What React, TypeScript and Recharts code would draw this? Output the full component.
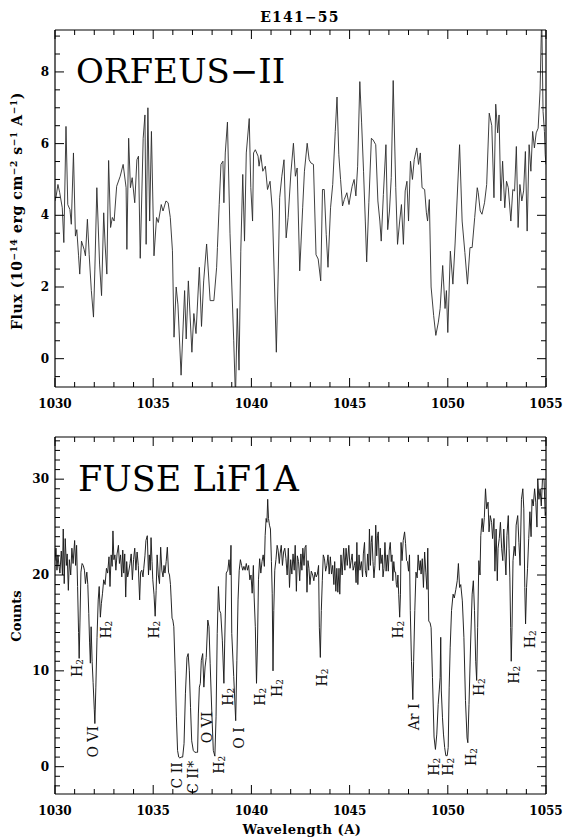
import React from 'react'
import { LineChart, ComposedChart, Line, XAxis, YAxis } from 'recharts'

// ORFEUS-II spectrum (wavelength in A, flux in 1e-14 erg/cm2/s/A)
const orfeusWave = [
  1030.00, 1030.06, 1030.15, 1030.24, 1030.37, 1030.45, 1030.56, 1030.65, 1030.76, 1030.83,
  1030.94, 1031.04, 1031.11, 1031.20, 1031.26, 1031.35, 1031.48, 1031.55, 1031.65, 1031.74,
  1031.85, 1031.96, 1032.03, 1032.13, 1032.27, 1032.37, 1032.48, 1032.55, 1032.64, 1032.73,
  1032.83, 1032.92, 1033.01, 1033.14, 1033.32, 1033.47, 1033.62, 1033.66, 1033.75, 1033.84,
  1033.93, 1034.06, 1034.17, 1034.25, 1034.34, 1034.49, 1034.58, 1034.64, 1034.73, 1034.82,
  1034.91, 1035.04, 1035.17, 1035.26, 1035.41, 1035.50, 1035.65, 1035.76, 1035.87, 1035.98,
  1036.06, 1036.17, 1036.26, 1036.42, 1036.60, 1036.68, 1036.79, 1036.97, 1037.07, 1037.18,
  1037.35, 1037.46, 1037.57, 1037.72, 1037.90, 1038.09, 1038.23, 1038.27, 1038.36, 1038.45,
  1038.55, 1038.60, 1038.67, 1038.78, 1038.91, 1039.10, 1039.19, 1039.28, 1039.37, 1039.46,
  1039.56, 1039.65, 1039.74, 1039.89, 1039.97, 1040.06, 1040.11, 1040.20, 1040.34, 1040.39,
  1040.48, 1040.58, 1040.71, 1040.82, 1040.95, 1041.07, 1041.18, 1041.27, 1041.37, 1041.44,
  1041.55, 1041.66, 1041.77, 1041.87, 1042.01, 1042.14, 1042.24, 1042.33, 1042.46, 1042.61,
  1042.70, 1042.84, 1042.94, 1043.03, 1043.16, 1043.29, 1043.40, 1043.53, 1043.62, 1043.71,
  1043.81, 1043.90, 1044.03, 1044.14, 1044.27, 1044.36, 1044.45, 1044.54, 1044.64, 1044.73,
  1044.86, 1044.97, 1045.04, 1045.13, 1045.23, 1045.32, 1045.41, 1045.52, 1045.61, 1045.71,
  1045.80, 1045.87, 1045.98, 1046.11, 1046.20, 1046.33, 1046.44, 1046.54, 1046.61, 1046.72,
  1046.85, 1046.94, 1047.03, 1047.12, 1047.22, 1047.35, 1047.44, 1047.55, 1047.64, 1047.74,
  1047.83, 1047.92, 1048.00, 1048.10, 1048.20, 1048.29, 1048.42, 1048.51, 1048.60, 1048.69,
  1048.82, 1048.91, 1048.97, 1049.06, 1049.15, 1049.28, 1049.39, 1049.52, 1049.61, 1049.74,
  1049.86, 1049.93, 1050.00, 1050.13, 1050.26, 1050.37, 1050.60, 1050.73, 1050.87, 1051.00,
  1051.13, 1051.24, 1051.37, 1051.50, 1051.55, 1051.65, 1051.74, 1051.87, 1051.98, 1052.11,
  1052.24, 1052.35, 1052.44, 1052.54, 1052.61, 1052.70, 1052.79, 1052.90, 1052.99, 1053.08,
  1053.21, 1053.31, 1053.40, 1053.49, 1053.58, 1053.67, 1053.77, 1053.86, 1053.95, 1054.04,
  1054.14, 1054.23, 1054.32, 1054.41, 1054.50, 1054.60, 1054.70, 1054.78, 1054.85, 1054.92,
  1054.96, 1055.00,
]
const orfeusFlux = [
  4.4, 4.54, 4.86, 4.63, 4.21, 3.24, 6.48, 4.3, 4.16, 3.75,
  5.74, 3.42, 3.6, 2.87, 2.36, 3.28, 3.05, 2.87, 3.89, 2.9,
  1.9, 1.16, 2.5, 4.77, 2.64, 1.76, 4.07, 3.2, 2.36, 5.53,
  3.66, 3.94, 3.84, 4.81, 5.09, 5.42, 4.77, 3.05, 6.15, 4.77,
  5.05, 4.35, 5.55, 5.65, 2.8, 6.15, 6.8, 3.19, 7.0, 3.84,
  6.34, 2.87, 3.94, 3.8, 4.3, 4.12, 4.4, 4.35, 3.94, 3.01,
  0.6, 2.0, 1.5, -0.46, 1.9, 0.55, 2.17, 0.18, 1.26, 0.7,
  2.55, 0.9, 2.17, 3.2, 1.62, 1.62, 2.55, 3.1, 4.3, 5.42,
  5.51, 4.35, 5.74, 6.6, 3.5, 0.5, -1.1, 1.4, -0.32, 3.0,
  5.14, 3.28, 5.74, 6.7, 4.77, 3.84, 5.74, 5.83, 5.65, 5.37,
  5.69, 5.23, 5.37, 4.72, 4.95, 4.12, 2.0, 0.18, 2.5, 4.49,
  5.09, 5.55, 3.37, 3.94, 5.18, 6.01, 5.09, 5.32, 2.45, 4.21,
  5.23, 6.01, 5.55, 5.46, 5.42, 2.9, 2.78, 2.17, 4.72, 4.72,
  3.47, 2.55, 4.21, 4.86, 6.34, 7.3, 5.69, 5.0, 4.26, 4.44,
  4.63, 4.3, 4.54, 4.81, 5.0, 4.54, 5.37, 7.73, 6.6, 5.23,
  3.84, 2.7, 4.35, 6.15, 6.1, 5.97, 4.4, 3.84, 3.28, 4.58,
  5.97, 3.6, 4.12, 5.05, 7.76, 4.77, 3.19, 3.84, 4.3, 3.19,
  4.68, 4.95, 3.84, 5.51, 5.0, 5.55, 5.88, 5.42, 5.74, 4.77,
  4.72, 4.07, 3.84, 4.44, 2.0, 1.2, 0.65, 1.02, 1.4, 2.6,
  1.4, 1.9, 0.73, 3.0, 2.08, 3.2, 5.97, 3.84, 2.96, 2.08,
  3.1, 3.1, 3.94, 4.77, 4.63, 4.12, 4.03, 4.35, 4.86, 6.85,
  6.5, 4.49, 7.1, 6.3, 6.8, 4.4, 5.51, 4.21, 4.95, 4.77,
  3.84, 4.72, 4.68, 5.92, 3.66, 4.86, 4.4, 4.68, 5.78, 3.56,
  5.97, 5.23, 6.34, 5.88, 6.3, 6.43, 7.5, 9.6, 6.9, 6.34,
  5.69, 5.42,
]

// FUSE LiF1A spectrum (counts)
const fuseWave = [
  1030.00, 1030.05, 1030.10, 1030.15, 1030.20, 1030.25, 1030.32, 1030.38, 1030.42, 1030.47,
  1030.52, 1030.58, 1030.62, 1030.68, 1030.73, 1030.80, 1030.86, 1030.92, 1031.00, 1031.05,
  1031.10, 1031.15, 1031.20, 1031.23, 1031.27, 1031.32, 1031.38, 1031.44, 1031.50, 1031.55,
  1031.62, 1031.67, 1031.72, 1031.76, 1031.80, 1031.84, 1031.89, 1031.94, 1032.00, 1032.03,
  1032.08, 1032.14, 1032.20, 1032.25, 1032.31, 1032.36, 1032.42, 1032.48, 1032.55, 1032.62,
  1032.68, 1032.75, 1032.80, 1032.86, 1032.91, 1032.95, 1033.00, 1033.05, 1033.10, 1033.16,
  1033.23, 1033.28, 1033.34, 1033.40, 1033.45, 1033.50, 1033.55, 1033.60, 1033.65, 1033.70,
  1033.75, 1033.82, 1033.88, 1033.94, 1034.00, 1034.06, 1034.12, 1034.18, 1034.24, 1034.31,
  1034.36, 1034.42, 1034.48, 1034.52, 1034.58, 1034.63, 1034.70, 1034.76, 1034.80, 1034.85,
  1034.89, 1034.94, 1034.98, 1035.04, 1035.10, 1035.15, 1035.20, 1035.26, 1035.32, 1035.38,
  1035.44, 1035.50, 1035.55, 1035.60, 1035.66, 1035.72, 1035.78, 1035.83, 1035.88, 1035.91,
  1035.96, 1036.00, 1036.05, 1036.12, 1036.18, 1036.24, 1036.30, 1036.36, 1036.42, 1036.50,
  1036.57, 1036.64, 1036.72, 1036.78, 1036.84, 1036.90, 1036.96, 1037.04, 1037.12, 1037.20,
  1037.26, 1037.30, 1037.35, 1037.40, 1037.45, 1037.52, 1037.58, 1037.64, 1037.70, 1037.78,
  1037.84, 1037.90, 1037.98, 1038.06, 1038.14, 1038.20, 1038.26, 1038.32, 1038.38, 1038.44,
  1038.52, 1038.60, 1038.64, 1038.72, 1038.80, 1038.86, 1038.92, 1038.96, 1039.00, 1039.10,
  1039.20, 1039.26, 1039.32, 1039.38, 1039.44, 1039.50, 1039.56, 1039.62, 1039.68, 1039.74,
  1039.80, 1039.86, 1039.92, 1039.98, 1040.04, 1040.10, 1040.14, 1040.20, 1040.26, 1040.31,
  1040.36, 1040.42, 1040.48, 1040.54, 1040.60, 1040.66, 1040.70, 1040.75, 1040.79, 1040.83,
  1040.87, 1040.92, 1040.97, 1041.02, 1041.06, 1041.10, 1041.14, 1041.19, 1041.25, 1041.31,
  1041.36, 1041.42, 1041.46, 1041.52, 1041.58, 1041.64, 1041.70, 1041.76, 1041.82, 1041.88,
  1041.94, 1042.00, 1042.06, 1042.12, 1042.18, 1042.23, 1042.29, 1042.34, 1042.40, 1042.46,
  1042.52, 1042.57, 1042.62, 1042.68, 1042.73, 1042.78, 1042.83, 1042.88, 1042.93, 1042.98,
  1043.05, 1043.12, 1043.18, 1043.24, 1043.30, 1043.36, 1043.42, 1043.46, 1043.51, 1043.56,
  1043.61, 1043.66, 1043.72, 1043.78, 1043.84, 1043.90, 1043.96, 1044.02, 1044.08, 1044.14,
  1044.20, 1044.24, 1044.30, 1044.35, 1044.40, 1044.46, 1044.50, 1044.56, 1044.62, 1044.70,
  1044.76, 1044.82, 1044.88, 1044.96, 1045.02, 1045.08, 1045.13, 1045.18, 1045.24, 1045.28,
  1045.33, 1045.37, 1045.42, 1045.48, 1045.53, 1045.60, 1045.66, 1045.70, 1045.76, 1045.80,
  1045.86, 1045.92, 1045.97, 1046.01, 1046.06, 1046.10, 1046.14, 1046.19, 1046.24, 1046.29,
  1046.33, 1046.38, 1046.42, 1046.46, 1046.52, 1046.56, 1046.60, 1046.66, 1046.70, 1046.75,
  1046.80, 1046.86, 1046.92, 1046.97, 1047.02, 1047.07, 1047.12, 1047.16, 1047.20, 1047.25,
  1047.30, 1047.34, 1047.38, 1047.42, 1047.46, 1047.50, 1047.55, 1047.59, 1047.62, 1047.67,
  1047.73, 1047.80, 1047.85, 1047.90, 1047.95, 1048.00, 1048.05, 1048.09, 1048.15, 1048.22,
  1048.26, 1048.32, 1048.38, 1048.44, 1048.49, 1048.55, 1048.60, 1048.64, 1048.70, 1048.76,
  1048.82, 1048.88, 1048.94, 1048.98, 1049.03, 1049.10, 1049.15, 1049.22, 1049.30, 1049.37,
  1049.44, 1049.51, 1049.57, 1049.61, 1049.64, 1049.67, 1049.73, 1049.78, 1049.84, 1049.90,
  1049.97, 1050.02, 1050.07, 1050.12, 1050.19, 1050.27, 1050.33, 1050.41, 1050.48, 1050.54,
  1050.60, 1050.66, 1050.74, 1050.82, 1050.90, 1050.98, 1051.02, 1051.08, 1051.16, 1051.24,
  1051.30, 1051.36, 1051.42, 1051.47, 1051.52, 1051.58, 1051.64, 1051.68, 1051.75, 1051.80,
  1051.86, 1051.92, 1051.98, 1052.05, 1052.10, 1052.16, 1052.23, 1052.28, 1052.35, 1052.40,
  1052.46, 1052.52, 1052.56, 1052.62, 1052.68, 1052.74, 1052.80, 1052.85, 1052.90, 1052.96,
  1053.01, 1053.08, 1053.12, 1053.16, 1053.20, 1053.23, 1053.27, 1053.32, 1053.38, 1053.44,
  1053.48, 1053.56, 1053.62, 1053.68, 1053.75, 1053.82, 1053.87, 1053.92, 1053.96, 1054.01,
  1054.06, 1054.12, 1054.18, 1054.24, 1054.29, 1054.35, 1054.42, 1054.48, 1054.54, 1054.58,
  1054.64, 1054.70, 1054.76, 1054.82, 1054.90, 1054.96, 1055.00,
]
const fuseCounts = [
  21.5, 22.8, 20.5, 22.1, 21.0, 20.2, 22.5, 20.0, 24.8, 19.1,
  23.8, 21.0, 22.2, 18.4, 21.6, 20.0, 22.8, 21.2, 23.6, 21.0,
  23.1, 18.8, 14.0, 11.3, 15.0, 20.3, 21.2, 21.0, 20.5, 19.1,
  20.3, 19.0, 16.0, 13.0, 10.8, 14.6, 11.0, 8.8, 6.0, 4.5,
  8.3, 13.5, 17.4, 18.8, 15.6, 17.0, 18.1, 19.5, 19.0, 20.7,
  20.2, 21.9, 18.8, 22.1, 20.9, 24.6, 21.6, 22.1, 20.5, 22.2,
  23.1, 21.2, 22.1, 19.8, 22.6, 20.2, 22.2, 17.7, 21.4, 19.8,
  20.3, 21.2, 22.2, 19.5, 21.6, 22.8, 20.5, 22.4, 21.0, 17.4,
  20.3, 20.5, 19.8, 20.7, 22.0, 23.6, 24.1, 20.0, 22.1, 20.5,
  23.9, 21.4, 19.5, 18.0, 15.7, 18.4, 22.1, 20.0, 19.1, 22.9,
  20.5, 19.8, 21.0, 20.2, 21.4, 22.9, 20.3, 20.0, 19.0, 17.7,
  15.5, 15.3, 14.6, 10.0, 5.2, 1.7, 1.0, 0.9, 1.0, 1.0,
  2.4, 7.6, 11.4, 11.8, 10.0, 6.2, 2.7, 1.7, 1.5, 1.5,
  1.5, 5.5, 8.3, 8.7, 11.1, 11.8, 8.3, 10.4, 11.4, 15.3,
  14.6, 10.8, 5.9, 1.7, 1.1, 5.2, 13.9, 18.8, 16.3, 16.0,
  13.2, 8.7, 12.9, 20.2, 20.5, 21.6, 20.0, 23.1, 13.9, 9.4,
  4.8, 11.1, 17.4, 20.5, 21.6, 21.0, 20.5, 20.9, 20.5, 21.2,
  20.5, 21.0, 19.5, 20.0, 18.1, 21.0, 17.7, 14.6, 8.7, 12.9,
  19.5, 21.7, 20.2, 21.4, 22.1, 20.9, 24.1, 25.9, 25.5, 27.9,
  25.9, 25.2, 24.8, 21.4, 18.1, 10.0, 16.3, 20.5, 21.6, 23.1,
  22.6, 21.2, 22.2, 23.1, 21.0, 22.4, 22.8, 21.7, 20.0, 22.8,
  18.7, 21.6, 20.1, 22.2, 20.5, 23.1, 18.3, 22.0, 21.4, 19.4,
  22.2, 20.5, 22.8, 21.0, 22.9, 23.1, 18.2, 21.5, 20.7, 19.0,
  20.4, 20.0, 19.4, 20.3, 19.8, 20.1, 21.0, 14.5, 11.4, 16.3,
  19.4, 22.1, 21.7, 20.4, 21.0, 22.1, 20.1, 21.9, 20.1, 21.0,
  19.0, 21.4, 18.3, 20.7, 18.2, 20.7, 18.0, 22.1, 20.0, 22.8,
  20.5, 22.8, 21.0, 23.1, 20.7, 21.5, 22.2, 20.5, 21.0, 21.4,
  19.2, 23.4, 19.0, 22.1, 20.5, 21.4, 19.8, 22.2, 23.4, 20.5,
  19.8, 22.2, 20.5, 24.8, 21.0, 23.4, 24.1, 21.4, 19.7, 21.0,
  25.2, 22.0, 24.1, 24.5, 20.5, 22.8, 21.2, 22.1, 19.8, 20.7,
  23.4, 20.4, 22.1, 20.4, 22.6, 23.4, 21.4, 22.1, 19.4, 21.4,
  20.3, 20.3, 19.0, 18.7, 20.0, 18.0, 15.6, 18.0, 23.4, 21.5,
  23.6, 24.5, 23.3, 21.5, 21.4, 20.4, 22.1, 16.3, 11.0, 7.0,
  11.0, 16.3, 20.3, 19.7, 22.1, 20.5, 21.5, 20.1, 21.7, 18.7,
  22.4, 20.3, 18.5, 22.8, 15.2, 15.0, 14.5, 9.3, 3.1, 1.8,
  3.4, 6.5, 8.1, 9.3, 13.5, 7.9, 5.1, 3.4, 2.0, 1.15,
  1.15, 2.0, 8.3, 12.4, 16.3, 18.0, 17.6, 18.5, 19.4, 21.2,
  18.7, 19.0, 17.3, 13.5, 6.9, 3.0, 2.5, 6.5, 12.8, 18.0,
  19.4, 16.3, 11.0, 9.0, 14.5, 21.5, 20.0, 24.1, 25.9, 24.5,
  26.0, 29.0, 26.9, 27.6, 24.5, 26.2, 25.5, 23.8, 25.9, 20.4,
  24.8, 19.4, 22.8, 23.8, 25.5, 22.8, 21.5, 24.8, 22.4, 20.0,
  24.1, 26.2, 22.8, 19.7, 14.5, 11.0, 14.5, 21.5, 23.0, 22.0,
  25.2, 26.2, 23.4, 21.0, 27.9, 29.0, 26.9, 18.7, 14.9, 18.7,
  20.7, 23.8, 26.6, 24.0, 27.9, 27.2, 29.0, 27.6, 25.0, 30.0,
  27.9, 29.0, 27.2, 30.0, 30.0, 26.2, 26.6,
]

// line identifications in the FUSE panel (label centre in data units)
const annWave = [1031.12, 1031.95, 1032.6, 1035.04, 1036.21, 1037.03, 1037.74, 1038.35, 1038.81, 1039.37, 1040.44, 1041.3, 1043.59, 1047.46, 1048.28, 1049.3, 1050.01, 1051.18, 1051.59, 1053.37, 1054.19]
const annCount = [10.3, 2.6, 14.3, 14.3, -0.9, -1.1, 4.1, 0.2, 7.3, 3.0, 7.3, 8.2, 9.3, 14.3, 5.2, 0, 0, 1.0, 8.3, 9.6, 13.3]
const annText = ['H2', 'O VI', 'H2', 'H2', 'C II', 'C II*', 'O VI', 'H2', 'H2', 'O I', 'H2', 'H2', 'H2', 'H2', 'Ar I', 'H2', 'H2', 'H2', 'H2', 'H2', 'H2']

const xLabels = [1030, 1035, 1040, 1045, 1050, 1055]
const fluxLabels = [0, 2, 4, 6, 8]
const countLabels = [0, 10, 20, 30]

const steps = (from: number, to: number, step: number) => {
  const out: number[] = []
  for (let v = from; v <= to + 1e-9; v += step) out.push(Math.round(v * 100) / 100)
  return out
}
const xTicks = steps(1030, 1055, 1)
const fluxTicks = steps(-0.5, 9, 0.5)
const countTicks = steps(-2, 34, 1)

const orfeusData = orfeusWave.map((w, i) => ({ w, v: orfeusFlux[i] }))
const fuseData = fuseWave.map((w, i) => ({ w, v: fuseCounts[i] }))
const annData = annWave.map((w, i) => ({ w, v: annCount[i], text: annText[i] }))

const SERIF = '"DejaVu Serif", serif'
const MAJOR = 9
const MINOR = 5
const isMajor = (labels: number[], v: number) => labels.some(l => Math.abs(l - v) < 1e-6)

const makeXTick = (side: 'top' | 'bottom', labels: number[], showLabels: boolean) => (p: any) => {
  const v = p.payload.value
  const major = isMajor(labels, v)
  const len = major ? MAJOR : MINOR
  const dir = side === 'bottom' ? -1 : 1
  return (
    <g>
      <line x1={p.x} x2={p.x} y1={p.y} y2={p.y + dir * len} stroke="#000" strokeWidth={1} />
      {showLabels && major && (
        <text x={p.x} y={p.y + 17} textAnchor="middle" dominantBaseline="central"
          fontFamily={SERIF} fontWeight={700} fontSize={12} fill="#000">{v}</text>
      )}
    </g>
  )
}

const makeYTick = (side: 'left' | 'right', labels: number[], showLabels: boolean) => (p: any) => {
  const v = p.payload.value
  const major = isMajor(labels, v)
  const len = major ? MAJOR : MINOR
  const dir = side === 'left' ? 1 : -1
  return (
    <g>
      <line x1={p.x} x2={p.x + dir * len} y1={p.y} y2={p.y} stroke="#000" strokeWidth={1} />
      {showLabels && major && (
        <text x={p.x - 6} y={p.y} textAnchor="end" dominantBaseline="central"
          fontFamily={SERIF} fontWeight={700} fontSize={12} fill="#000">{v}</text>
      )}
    </g>
  )
}

const AnnotationDot = (p: any) => {
  const { cx, cy, payload } = p
  if (cx == null || cy == null) return <g key={p.key} />
  const t: string = payload.text
  return (
    <text key={p.key} x={cx} y={cy} transform={`rotate(-90 ${cx} ${cy})`} textAnchor="middle"
      dominantBaseline="central" fontFamily={SERIF} fontSize={14} fill="#111">
      {t === 'H2' ? (<>H<tspan fontSize={9} dy={3}>2</tspan></>) : t}
    </text>
  )
}

const axisLine = { stroke: '#000', strokeWidth: 1.2 }

const Panel = ({ data, yDomain, yTicks, yLabels, top, height, margin, children, Chart }: any) => (
  <div style={{ position: 'absolute', left: 0, top, width: 568, height }}>
    <Chart width={568} height={height} data={data} margin={margin}>
      <XAxis xAxisId="b" dataKey="w" type="number" domain={[1030, 1055]} allowDataOverflow
        ticks={xTicks} interval={0} tickSize={0} tickMargin={0} tickLine={false}
        axisLine={axisLine} height={margin.xh} tick={makeXTick('bottom', xLabels, true)} />
      <XAxis xAxisId="t" orientation="top" dataKey="w" type="number" domain={[1030, 1055]} allowDataOverflow
        ticks={xTicks} interval={0} tickSize={0} tickMargin={0} tickLine={false}
        axisLine={axisLine} height={1} tick={makeXTick('top', xLabels, false)} />
      <YAxis yAxisId="l" type="number" domain={yDomain} allowDataOverflow ticks={yTicks} interval={0}
        tickSize={0} tickMargin={0} tickLine={false} axisLine={axisLine} width={55}
        tick={makeYTick('left', yLabels, true)} />
      <YAxis yAxisId="r" orientation="right" type="number" domain={yDomain} allowDataOverflow ticks={yTicks}
        interval={0} tickSize={0} tickMargin={0} tickLine={false} axisLine={axisLine} width={1}
        tick={makeYTick('right', yLabels, false)} />
      {children}
    </Chart>
  </div>
)

export default function App() {
  return (
    <div style={{ position: 'absolute', left: 0, top: 0, width: 568, height: 839, background: '#fff' }}>
      <Panel Chart={LineChart} data={orfeusData} yDomain={[-0.79, 9.17]} yTicks={fluxTicks} yLabels={fluxLabels}
        top={0} height={420} margin={{ top: 29, right: 21, bottom: 0, left: 0, xh: 33 }}>
        <Line xAxisId="b" yAxisId="l" dataKey="v" type="linear" stroke="#2a2a2a" strokeWidth={0.9}
          dot={false} activeDot={false} isAnimationActive={false} />
      </Panel>
      <Panel Chart={ComposedChart} data={fuseData} yDomain={[-2.85, 34.4]} yTicks={countTicks} yLabels={countLabels}
        top={420} height={419} margin={{ top: 16, right: 21, bottom: 0, left: 0, xh: 45 }}>
        <Line xAxisId="b" yAxisId="l" data={fuseData} dataKey="v" type="linear" stroke="#1a1a1a" strokeWidth={0.95}
          dot={false} activeDot={false} isAnimationActive={false} />
        <Line xAxisId="b" yAxisId="l" data={annData} dataKey="v" stroke="none" dot={AnnotationDot}
          activeDot={false} isAnimationActive={false} />
      </Panel>
      <svg width={568} height={839} style={{ position: 'absolute', left: 0, top: 0, pointerEvents: 'none' }}>
        <text x={300} y={22} textAnchor="middle" fontFamily={SERIF} fontWeight={700} fontSize={14} letterSpacing={1.2} fill="#000">E141−55</text>
        <text x={76} y={83} fontFamily={SERIF} fontSize={34} fill="#000">ORFEUS−II</text>
        <text x={78} y={491} fontFamily={SERIF} fontSize={35} fill="#000">FUSE LiF1A</text>
        <text x={22} y={211} transform="rotate(-90 22 211)" textAnchor="middle" fontFamily={SERIF}
          fontWeight={700} fontSize={14} letterSpacing={0.6} fill="#000">
          Flux (10<tspan fontSize={9} dy={-5}>−14</tspan><tspan dy={5}> erg cm</tspan><tspan fontSize={9} dy={-5}>−2</tspan>
          <tspan dy={5}> s</tspan><tspan fontSize={9} dy={-5}>−1</tspan><tspan dy={5}> A</tspan>
          <tspan fontSize={9} dy={-5}>−1</tspan><tspan dy={5}>)</tspan>
        </text>
        <text x={21} y={616} transform="rotate(-90 21 616)" textAnchor="middle" fontFamily={SERIF}
          fontWeight={700} fontSize={13} fill="#000">Counts</text>
        <text x={302} y={834} textAnchor="middle" fontFamily={SERIF} fontWeight={700} fontSize={13}
          letterSpacing={0.5} fill="#000">Wavelength (A)</text>
      </svg>
    </div>
  )
}
